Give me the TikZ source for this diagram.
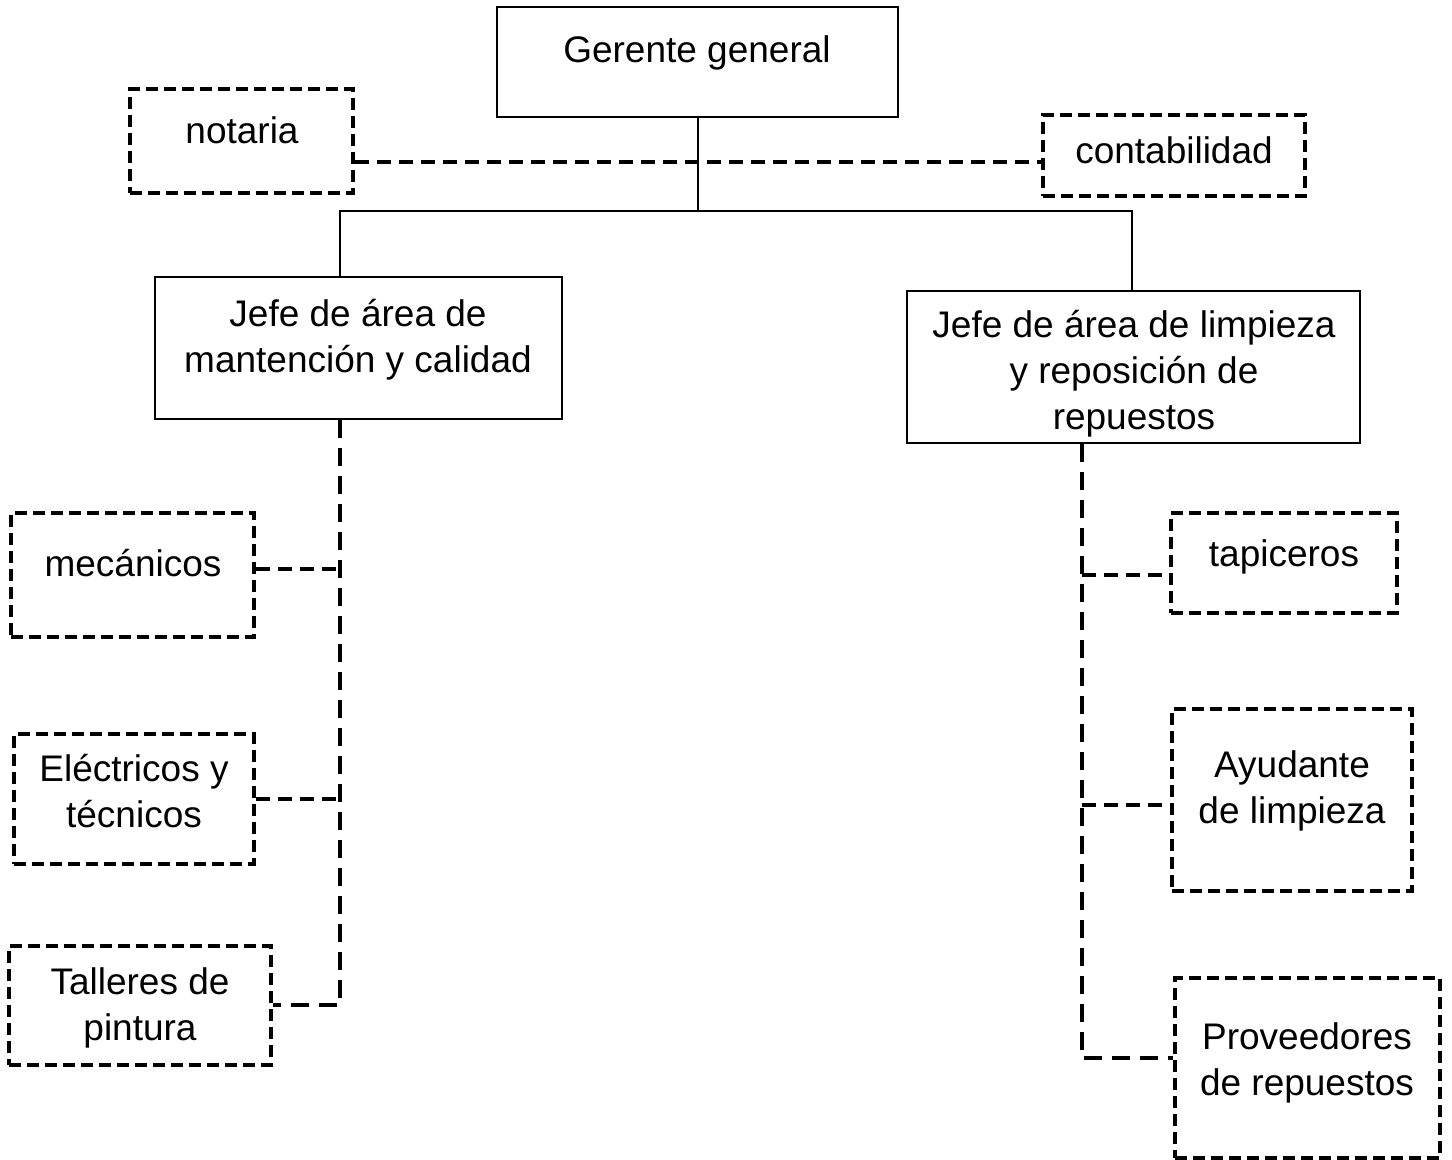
\documentclass[tikz,border=0pt]{standalone}
\usepackage{fontspec}
\setmainfont{Liberation Sans}
\begin{document}
\begin{tikzpicture}[x=0.5pt,y=-0.5pt,
	font=\fontsize{18.5}{23}\selectfont,
	jefebox/.style={draw,line width=1.2pt,inner sep=0pt},
	apoyobox/.style={draw,line width=1.8pt,dash pattern=on 6pt off 3pt,inner sep=0pt},
	texto/.style={align=center,inner sep=0pt},
	linea/.style={line width=1pt},
	guion/.style={line width=1.8pt,dash pattern=on 7pt off 4pt},
	espina/.style={line width=2pt,dash pattern=on 9pt off 5pt}]
	  \useasboundingbox (0,0) rectangle (1452,1160);
	  % cajas de jefatura
	  \node[jefebox,minimum width=200.5pt,minimum height=55pt] (gerente) at (697.5,62) {};
	  \node[texto] (gerente-t) at (697,53) {Gerente general};
	  \node[jefebox,minimum width=203.5pt,minimum height=71pt] (mantencion) at (358.5,348) {};
	  \node[texto] (mantencion-t) at (358,340) {Jefe de área de\\mantención y calidad};
	  \node[jefebox,minimum width=226.5pt,minimum height=76pt] (limpieza) at (1133.5,367) {};
	  \node[texto] (limpieza-t) at (1134,374) {Jefe de área de limpieza\\y reposición de\\repuestos};
	  % cajas de apoyo
	  \node[apoyobox,minimum width=111.5pt,minimum height=52pt] (notaria) at (241.5,141) {};
	  \node[texto] (notaria-t) at (242,130) {notaria};
	  \node[apoyobox,minimum width=131pt,minimum height=40.5pt] (contab) at (1174,155.5) {};
	  \node[texto] (contab-t) at (1174,150) {contabilidad};
	  \node[apoyobox,minimum width=121.5pt,minimum height=62pt] (mecanicos) at (132.5,575) {};
	  \node[texto] (mecanicos-t) at (133,563) {mecánicos};
	  \node[apoyobox,minimum width=120pt,minimum height=65pt] (electricos) at (134,799) {};
	  \node[texto] (electricos-t) at (134,791) {Eléctricos y\\técnicos};
	  \node[apoyobox,minimum width=131pt,minimum height=59.5pt] (talleres) at (140,1005.5) {};
	  \node[texto] (talleres-t) at (140,1008) {Talleres de\\pintura};
	  \node[apoyobox,minimum width=113pt,minimum height=50pt] (tapiceros) at (1284,563) {};
	  \node[texto] (tapiceros-t) at (1284,557) {tapiceros};
	  \node[apoyobox,minimum width=120pt,minimum height=91pt] (ayudante) at (1292,800) {};
	  \node[texto] (ayudante-t) at (1292,791) {Ayudante\\de limpieza};
	  \node[apoyobox,minimum width=132.5pt,minimum height=90pt] (proveedores) at (1307.5,1068) {};
	  \node[texto] (proveedores-t) at (1307,1063) {Proveedores\\de repuestos};
	  \coordinate (busL) at (340,211);
	  \coordinate (busR) at (1132,211);
	  \coordinate (espinaL) at (340,1005);
	  \coordinate (espinaR) at (1082,1058);
	  % lineas de mando
	  \draw[linea] (gerente.south) -- (gerente.south |- busL);
	  \draw[linea] (mantencion.north -| busL) -- (busL) -- (busR) -- (limpieza.north -| busR);
	  \draw[guion] (notaria.east |- 0,162) -- (contab.west |- 0,162);
	  \begin{scope}
	    \draw[espina] (mantencion.south -| espinaL) -- (espinaL) -- (talleres.east |- espinaL);
	    \draw[guion] (mecanicos.east |- 0,569) -- (espinaL |- 0,569);
	    \draw[guion] (electricos.east) -- (electricos.east -| espinaL);
	    \draw[espina] (limpieza.south -| espinaR) -- (espinaR) -- (proveedores.west |- espinaR);
	    \draw[guion] (espinaR |- 0,575) -- (tapiceros.west |- 0,575);
	    \draw[guion] (espinaR |- 0,805) -- (ayudante.west |- 0,805);
	  \end{scope}
\end{tikzpicture}
\end{document}
